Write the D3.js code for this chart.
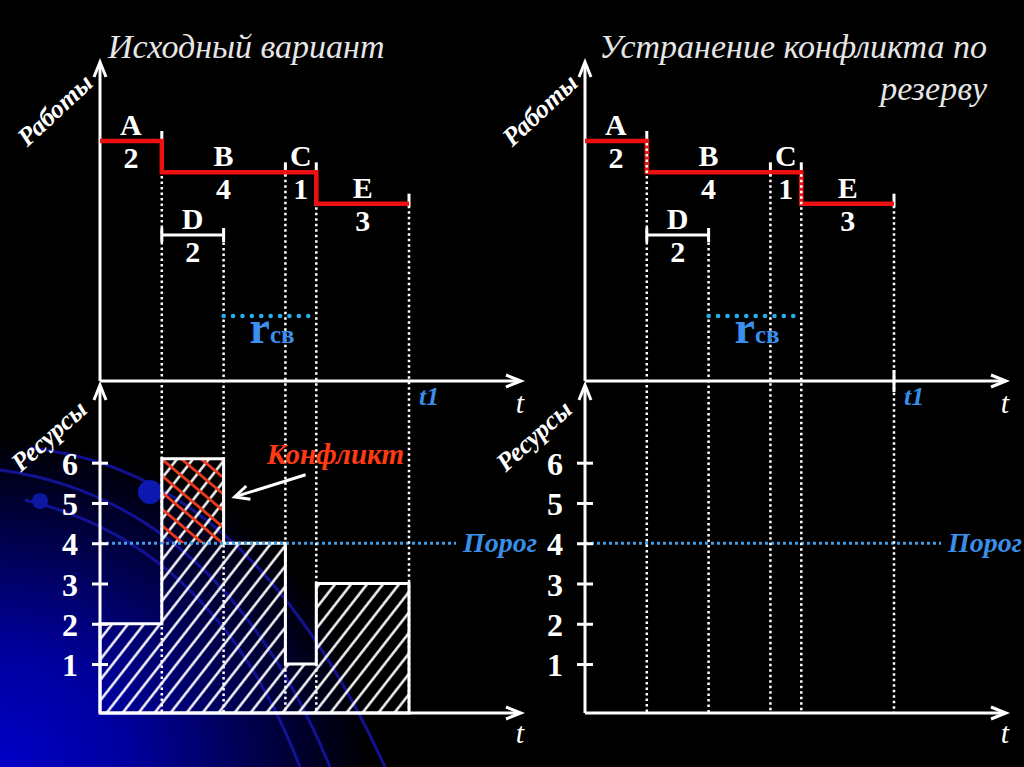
<!DOCTYPE html>
<html><head><meta charset="utf-8">
<script src="https://cdn.jsdelivr.net/npm/d3@7"></script>
<style>html,body{margin:0;padding:0;background:#000;overflow:hidden}</style>
</head><body>
<svg id="c" width="1024" height="767"></svg>
<script>
// ---- data ----
const works = ["A", "B", "C", "D", "E"];
const workStart = [0, 2, 6, 2, 7];
const workDuration = [2, 4, 1, 2, 3];
const workRow = [0, 1, 1, 3, 2];
const criticalPath = ["A", "B", "C", "E"];
const resourceTimes = [0, 2, 4, 6, 7, 10];
const resourceValues = [2, 6.1, 4, 1, 3, 3];
const resourceTicks = [1, 2, 3, 4, 5, 6];
const threshold = 4;
const reserveFrom = 4, reserveTo = 7;
const t1Value = 10;
const leftTitle = ["Исходный вариант"];
const rightTitle = ["Устранение конфликта по", "резерву"];

// ---- layout ----
const svg = d3.select("#c");
const FONT = "'Liberation Serif','Times New Roman',serif";
const topAxisY = 381, botAxisY = 713;
const defs = svg.append("defs");

const glow = defs.append("radialGradient").attr("id", "glow")
  .attr("gradientUnits", "userSpaceOnUse").attr("cx", 0).attr("cy", 0).attr("r", 1)
  .attr("gradientTransform", "translate(0 767) scale(370 330)");
[[0, "#0000c8"], [0.35, "#00009e"], [0.7, "#00004a"], [1, "#000000"]]
  .forEach(([o, c]) => glow.append("stop").attr("offset", o).attr("stop-color", c));

const hatch = defs.append("pattern").attr("id", "hatch").attr("patternUnits", "userSpaceOnUse")
  .attr("width", 12.6).attr("height", 12.6).attr("patternTransform", "rotate(38)");
hatch.append("line").attr("x1", 6.3).attr("x2", 6.3).attr("y1", -1).attr("y2", 14)
  .attr("stroke", "#fff").attr("stroke-width", 2.4);
const redHatch = defs.append("pattern").attr("id", "redHatch").attr("patternUnits", "userSpaceOnUse")
  .attr("width", 12.7).attr("height", 12.7).attr("patternTransform", "rotate(-50)");
redHatch.append("line").attr("x1", 6.3).attr("x2", 6.3).attr("y1", -1).attr("y2", 14)
  .attr("stroke", "#ec3a1c").attr("stroke-width", 2.8);

// background
svg.append("rect").attr("width", 1024).attr("height", 767).attr("fill", "#000");
svg.append("rect").attr("width", 1024).attr("height", 767).attr("fill", "url(#glow)");
const deco = svg.append("g").attr("fill", "none").attr("stroke", "#1414a0").attr("stroke-width", 3).attr("opacity", 0.9);
deco.append("path").attr("d", "M 30 448 Q 250 470 385 767");
deco.append("path").attr("d", "M 0 470 Q 220 500 330 767");
deco.append("path").attr("d", "M 25 500 Q 215 545 300 767");
svg.append("circle").attr("cx", 150).attr("cy", 492).attr("r", 12).attr("fill", "#0c18b0");
svg.append("circle").attr("cx", 40).attr("cy", 501).attr("r", 8).attr("fill", "#0c18a0");

const yRes = d3.scaleLinear().domain([0, 6]).range([704.3, 462.7]);
const rowY = d3.scaleLinear().domain([0, 3]).range([141, 235]);

function arrowHead(g, x, y, dir) {
  const p = dir === "up" ? `M${x - 6},${y + 15} L${x},${y} L${x + 6},${y + 15}`
                         : `M${x - 15},${y - 6} L${x},${y} L${x - 15},${y + 6}`;
  g.append("path").attr("d", p).attr("fill", "none").attr("stroke", "#fff")
    .attr("stroke-width", 3).attr("stroke-linejoin", "miter");
}

const panels = [
  { off: 0, bars: true, title: leftTitle, anchor: "start", tx: 108, t1Tick: false },
  { off: 485, bars: false, title: rightTitle, anchor: "end", tx: 987, t1Tick: true }
];

panels.forEach(p => {
  const g = svg.append("g");
  const ax0 = 100 + p.off, axEnd = 521 + p.off;
  const x = d3.scaleLinear().domain([0, 10]).range([ax0, 409 + p.off]);

  // resource profile
  if (p.bars) {
    const area = d3.area().x((d, i) => x(resourceTimes[i])).y0(botAxisY).y1(d => yRes(d))
      .curve(d3.curveStepAfter);
    g.append("path").datum(resourceValues).attr("d", area).attr("fill", "url(#hatch)");
    resourceValues.forEach((v, i) => {
      if (i < resourceTimes.length - 1 && v > threshold) {
        g.append("rect").attr("x", x(resourceTimes[i])).attr("width", x(resourceTimes[i + 1]) - x(resourceTimes[i]))
          .attr("y", yRes(v)).attr("height", yRes(threshold) - yRes(v)).attr("fill", "url(#redHatch)");
      }
    });
    g.append("path").datum(resourceValues).attr("d", area).attr("fill", "none")
      .attr("stroke", "#fff").attr("stroke-width", 3);
  }

  // threshold line
  g.append("line").attr("x1", ax0).attr("x2", ax0 + 356).attr("y1", yRes(threshold)).attr("y2", yRes(threshold))
    .attr("stroke", "#3e9ce8").attr("stroke-width", 3).attr("stroke-dasharray", "3,3");
  g.append("text").attr("x", ax0 + 363).attr("y", yRes(threshold) + 9).text("Порог")
    .attr("font-family", FONT).attr("font-style", "italic").attr("font-weight", "bold")
    .attr("font-size", 28).attr("fill", "#3a8ee6");

  // axes
  g.append("line").attr("x1", ax0).attr("x2", ax0).attr("y1", topAxisY).attr("y2", 63).attr("stroke", "#fff").attr("stroke-width", 3);
  arrowHead(g, ax0, 62, "up");
  g.append("line").attr("x1", ax0).attr("x2", axEnd - 1).attr("y1", topAxisY).attr("y2", topAxisY).attr("stroke", "#fff").attr("stroke-width", 3);
  arrowHead(g, axEnd, topAxisY, "right");
  g.append("line").attr("x1", ax0).attr("x2", ax0).attr("y1", botAxisY).attr("y2", 386).attr("stroke", "#fff").attr("stroke-width", 3);
  arrowHead(g, ax0, 385, "up");
  g.append("line").attr("x1", ax0).attr("x2", axEnd - 1).attr("y1", botAxisY).attr("y2", botAxisY).attr("stroke", "#fff").attr("stroke-width", 3);
  arrowHead(g, axEnd, botAxisY, "right");

  // dotted guide lines from work ends
  const drawGuides = () => {
    works.forEach((w, i) => {
      const xe = x(workStart[i] + workDuration[i]);
      g.append("line").attr("x1", xe).attr("x2", xe).attr("y1", rowY(workRow[i]) + 2).attr("y2", botAxisY)
        .attr("stroke", "#fff").attr("stroke-width", 2.5).attr("stroke-dasharray", "2.5,3");
    });
  };
  if (!p.t1Tick) drawGuides();

  // non-critical work D (white)
  works.forEach((w, i) => {
    if (criticalPath.includes(w)) return;
    const y = rowY(workRow[i]), xs = x(workStart[i]), xe = x(workStart[i] + workDuration[i]);
    g.append("line").attr("x1", xs).attr("x2", xe).attr("y1", y).attr("y2", y).attr("stroke", "#fff").attr("stroke-width", 3);
    [xs, xe].forEach(xx => g.append("line").attr("x1", xx).attr("x2", xx).attr("y1", y - 7).attr("y2", y + 7)
      .attr("stroke", "#fff").attr("stroke-width", 3));
  });
  // end ticks for critical works
  works.forEach((w, i) => {
    if (!criticalPath.includes(w)) return;
    const y = rowY(workRow[i]), xe = x(workStart[i] + workDuration[i]);
    g.append("line").attr("x1", xe).attr("x2", xe).attr("y1", y - 10).attr("y2", y + 3)
      .attr("stroke", "#fff").attr("stroke-width", 3);
  });
  // critical path (red)
  const cp = criticalPath.map(w => works.indexOf(w));
  const pts = cp.map(i => [workStart[i], workRow[i]]);
  const last = cp[cp.length - 1];
  pts.push([workStart[last] + workDuration[last], workRow[last]]);
  g.append("path").datum(pts)
    .attr("d", d3.line().x(d => x(d[0])).y(d => rowY(d[1])).curve(d3.curveStepAfter))
    .attr("fill", "none").attr("stroke", "#ee1010").attr("stroke-width", 4.5);

  if (p.t1Tick) drawGuides();

  // work labels
  const wl = g.append("g").attr("text-anchor", "middle").attr("font-family", FONT)
    .attr("font-weight", "bold").attr("font-size", 30).attr("fill", "#fff");
  works.forEach((w, i) => {
    const cx = x(workStart[i] + workDuration[i] / 2), y = rowY(workRow[i]);
    wl.append("text").attr("x", cx).attr("y", y - 6).text(w);
    wl.append("text").attr("x", cx).attr("y", y + 27).text(workDuration[i]);
  });

  // free reserve r_св
  g.append("line").attr("x1", x(reserveFrom)).attr("x2", x(reserveTo)).attr("y1", 316).attr("y2", 316)
    .attr("stroke", "#29aee8").attr("stroke-width", 4.5).attr("stroke-linecap", "round").attr("stroke-dasharray", "0.1,9.3");
  const rt = g.append("text").attr("x", x(reserveFrom) + 26).attr("y", 343)
    .attr("font-family", FONT).attr("font-weight", "bold").attr("fill", "#3a8ff0");
  rt.append("tspan").attr("font-size", 46).text("r");
  rt.append("tspan").attr("font-size", 25).text("св");

  // t1
  if (p.t1Tick) {
    g.append("line").attr("x1", x(t1Value)).attr("x2", x(t1Value)).attr("y1", 370).attr("y2", 392)
      .attr("stroke", "#fff").attr("stroke-width", 3);
  }
  g.append("text").attr("x", x(t1Value) + 10).attr("y", 405).text("t1")
    .attr("font-family", FONT).attr("font-style", "italic").attr("font-weight", "bold")
    .attr("font-size", 26).attr("fill", "#3a8ee6");
  [413, 743].forEach(yy => g.append("text").attr("x", axEnd - 1).attr("y", yy).text("t")
    .attr("text-anchor", "middle").attr("font-family", FONT).attr("font-style", "italic")
    .attr("font-size", 30).attr("fill", "#fff"));

  // resource axis ticks
  const axG = g.append("g").attr("transform", `translate(${ax0},0)`)
    .call(d3.axisLeft(yRes).tickValues(resourceTicks).tickFormat(d3.format("d")).tickSize(8).tickPadding(14));
  axG.select(".domain").remove();
  axG.selectAll(".tick line").attr("x1", 8).attr("x2", -8).attr("stroke", "#fff").attr("stroke-width", 3);
  axG.selectAll(".tick text").attr("font-family", FONT).attr("font-weight", "bold")
    .attr("font-size", 32).attr("fill", "#fff").attr("dy", "0.36em");

  // rotated axis names
  g.append("text").attr("transform", `translate(${55 + p.off},110) rotate(-43)`).text("Работы")
    .attr("text-anchor", "middle").attr("dominant-baseline", "central").attr("font-family", FONT)
    .attr("font-style", "italic").attr("font-weight", "bold").attr("font-size", 26).attr("fill", "#fff");
  g.append("text").attr("transform", `translate(${49 + p.off},436) rotate(-42)`).text("Ресурсы")
    .attr("text-anchor", "middle").attr("dominant-baseline", "central").attr("font-family", FONT)
    .attr("font-style", "italic").attr("font-weight", "bold").attr("font-size", 26).attr("fill", "#fff");

  // title
  p.title.forEach((t, k) => {
    g.append("text").attr("x", p.tx).attr("y", 58 + k * 42).text(t)
      .attr("text-anchor", p.anchor).attr("font-family", FONT).attr("font-style", "italic")
      .attr("font-size", 34).attr("fill", "#e6e6e6");
  });

  // conflict annotation
  if (p.bars) {
    g.append("text").attr("x", x(5.4)).attr("y", 464).text("Конфликт")
      .attr("font-family", FONT).attr("font-style", "italic").attr("font-weight", "bold")
      .attr("font-size", 29).attr("fill", "#ff3a14");
    const tip = [x(4) + 11, yRes(5.15)], tail = [x(4) + 82, yRes(5.7)];
    g.append("line").attr("x1", tail[0]).attr("y1", tail[1]).attr("x2", tip[0] + 3).attr("y2", tip[1] - 1)
      .attr("stroke", "#fff").attr("stroke-width", 3);
    const ang = Math.atan2(tip[1] - tail[1], tip[0] - tail[0]);
    const L = 16, W = 0.45;
    const a1 = [tip[0] - L * Math.cos(ang - W), tip[1] - L * Math.sin(ang - W)];
    const a2 = [tip[0] - L * Math.cos(ang + W), tip[1] - L * Math.sin(ang + W)];
    g.append("path").attr("d", `M${a1} L${tip} L${a2}`).attr("fill", "none")
      .attr("stroke", "#fff").attr("stroke-width", 3);
  }
});
</script>
</body></html>
